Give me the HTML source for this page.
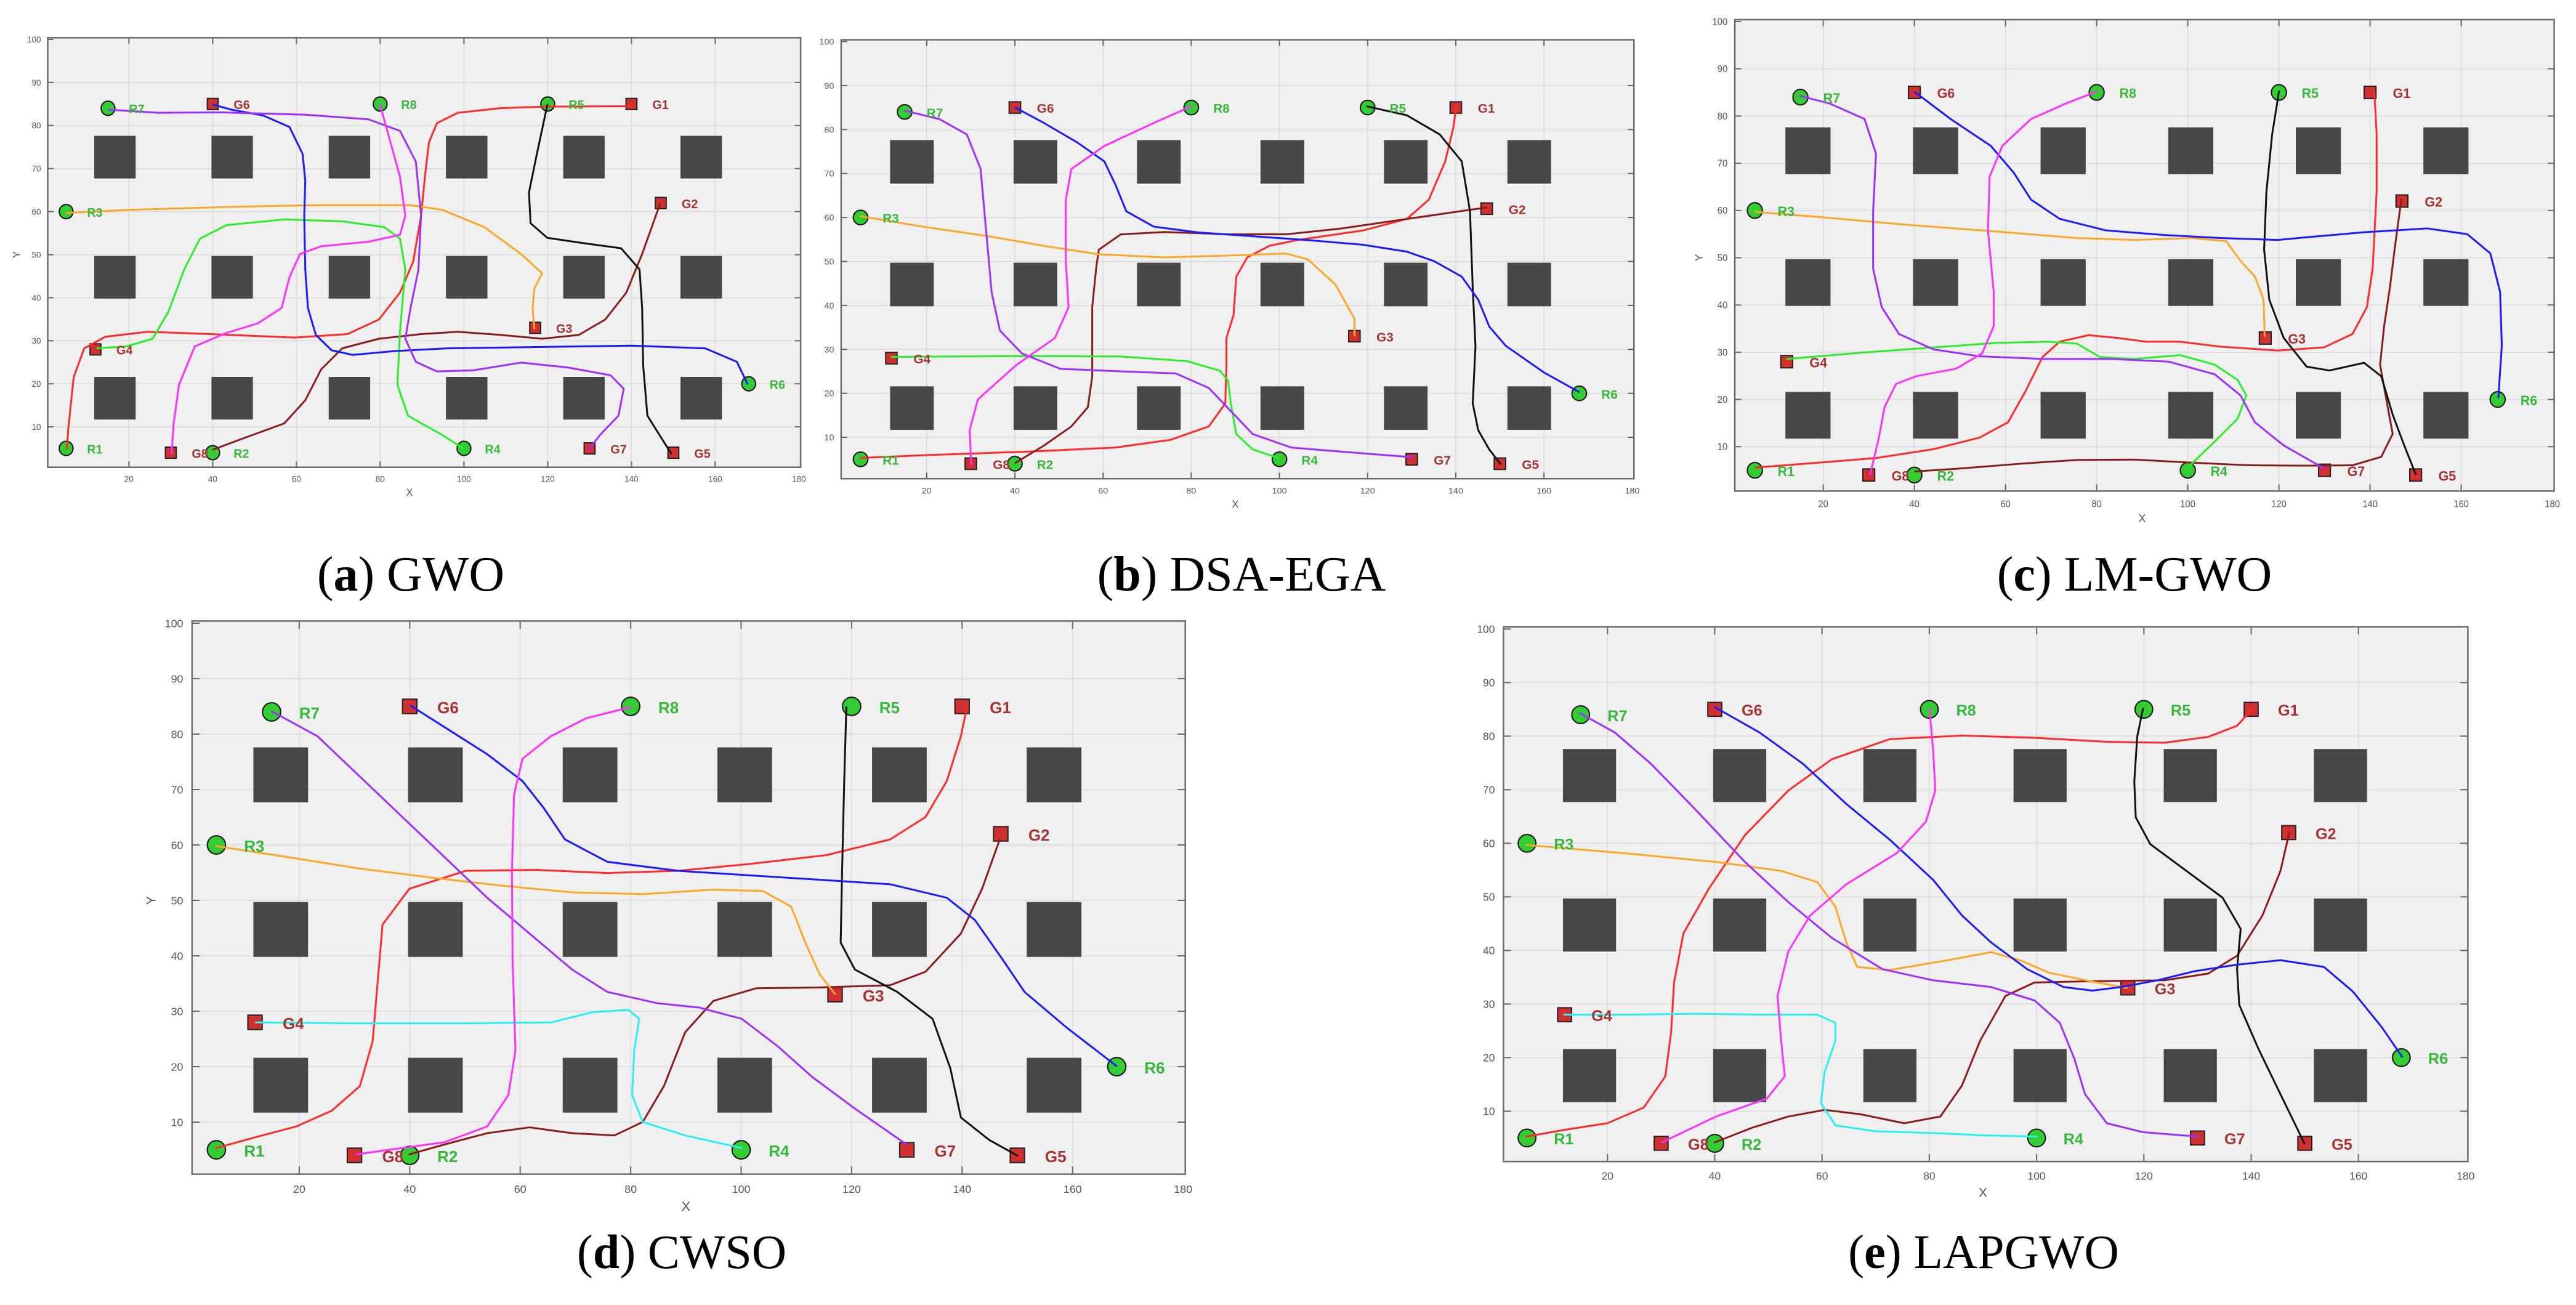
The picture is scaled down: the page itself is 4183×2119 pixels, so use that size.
<!DOCTYPE html>
<html><head><meta charset="utf-8"><style>
html,body{margin:0;padding:0;background:#fff}
svg{display:block}
.ns{vector-effect:non-scaling-stroke}
.p polyline{fill:none;stroke-width:3px;vector-effect:non-scaling-stroke;stroke-linejoin:round;stroke-linecap:round}
.tk{font-family:"Liberation Sans",sans-serif;font-size:2px;fill:#555}
.rl{font-family:"Liberation Sans",sans-serif;font-size:2.9px;font-weight:bold;fill:#36b83a}
.gl{font-family:"Liberation Sans",sans-serif;font-size:2.9px;font-weight:bold;fill:#a83232}
.cap{font-family:"Liberation Serif",serif;font-size:80px;fill:#000}
</style></head><body>
<svg width="4183" height="2119" viewBox="0 0 4183 2119" xmlns="http://www.w3.org/2000/svg">
<defs>
<g id="env">
<rect x="0.6" y="-0.4" width="179.8" height="99.8" fill="#f0f0f0"/>
<g stroke="#dadada" stroke-width="1.5" class="ns">
<line class="ns" x1="20" y1="-0.4" x2="20" y2="99.4"/><line class="ns" x1="40" y1="-0.4" x2="40" y2="99.4"/><line class="ns" x1="60" y1="-0.4" x2="60" y2="99.4"/><line class="ns" x1="80" y1="-0.4" x2="80" y2="99.4"/><line class="ns" x1="100" y1="-0.4" x2="100" y2="99.4"/><line class="ns" x1="120" y1="-0.4" x2="120" y2="99.4"/><line class="ns" x1="140" y1="-0.4" x2="140" y2="99.4"/><line class="ns" x1="160" y1="-0.4" x2="160" y2="99.4"/>
<line class="ns" x1="0.6" y1="10" x2="180.4" y2="10"/><line class="ns" x1="0.6" y1="20" x2="180.4" y2="20"/><line class="ns" x1="0.6" y1="30" x2="180.4" y2="30"/><line class="ns" x1="0.6" y1="40" x2="180.4" y2="40"/><line class="ns" x1="0.6" y1="50" x2="180.4" y2="50"/><line class="ns" x1="0.6" y1="60" x2="180.4" y2="60"/><line class="ns" x1="0.6" y1="70" x2="180.4" y2="70"/><line class="ns" x1="0.6" y1="80" x2="180.4" y2="80"/><line class="ns" x1="0.6" y1="90" x2="180.4" y2="90"/>
</g>
<g fill="#474747">
<rect x="11.7" y="22.4" width="9.9" height="9.9"/><rect x="39.7" y="22.4" width="9.9" height="9.9"/><rect x="67.7" y="22.4" width="9.9" height="9.9"/><rect x="95.7" y="22.4" width="9.9" height="9.9"/><rect x="123.7" y="22.4" width="9.9" height="9.9"/><rect x="151.7" y="22.4" width="9.9" height="9.9"/>
<rect x="11.7" y="50.3" width="9.9" height="9.9"/><rect x="39.7" y="50.3" width="9.9" height="9.9"/><rect x="67.7" y="50.3" width="9.9" height="9.9"/><rect x="95.7" y="50.3" width="9.9" height="9.9"/><rect x="123.7" y="50.3" width="9.9" height="9.9"/><rect x="151.7" y="50.3" width="9.9" height="9.9"/>
<rect x="11.7" y="78.4" width="9.9" height="9.9"/><rect x="39.7" y="78.4" width="9.9" height="9.9"/><rect x="67.7" y="78.4" width="9.9" height="9.9"/><rect x="95.7" y="78.4" width="9.9" height="9.9"/><rect x="123.7" y="78.4" width="9.9" height="9.9"/><rect x="151.7" y="78.4" width="9.9" height="9.9"/>
</g>
<g stroke="#666" stroke-width="2">
<line class="ns" x1="0.6" y1="0" x2="2" y2="0"/><line class="ns" x1="0.6" y1="10" x2="2" y2="10"/><line class="ns" x1="0.6" y1="20" x2="2" y2="20"/><line class="ns" x1="0.6" y1="30" x2="2" y2="30"/><line class="ns" x1="0.6" y1="40" x2="2" y2="40"/><line class="ns" x1="0.6" y1="50" x2="2" y2="50"/><line class="ns" x1="0.6" y1="60" x2="2" y2="60"/><line class="ns" x1="0.6" y1="70" x2="2" y2="70"/><line class="ns" x1="0.6" y1="80" x2="2" y2="80"/><line class="ns" x1="0.6" y1="90" x2="2" y2="90"/>
<line class="ns" x1="179" y1="10" x2="180.4" y2="10"/><line class="ns" x1="179" y1="20" x2="180.4" y2="20"/><line class="ns" x1="179" y1="30" x2="180.4" y2="30"/><line class="ns" x1="179" y1="40" x2="180.4" y2="40"/><line class="ns" x1="179" y1="50" x2="180.4" y2="50"/><line class="ns" x1="179" y1="60" x2="180.4" y2="60"/><line class="ns" x1="179" y1="70" x2="180.4" y2="70"/><line class="ns" x1="179" y1="80" x2="180.4" y2="80"/><line class="ns" x1="179" y1="90" x2="180.4" y2="90"/>
<line class="ns" x1="20" y1="99.4" x2="20" y2="98"/><line class="ns" x1="40" y1="99.4" x2="40" y2="98"/><line class="ns" x1="60" y1="99.4" x2="60" y2="98"/><line class="ns" x1="80" y1="99.4" x2="80" y2="98"/><line class="ns" x1="100" y1="99.4" x2="100" y2="98"/><line class="ns" x1="120" y1="99.4" x2="120" y2="98"/><line class="ns" x1="140" y1="99.4" x2="140" y2="98"/><line class="ns" x1="160" y1="99.4" x2="160" y2="98"/>
<line class="ns" x1="20" y1="-0.4" x2="20" y2="1"/><line class="ns" x1="40" y1="-0.4" x2="40" y2="1"/><line class="ns" x1="60" y1="-0.4" x2="60" y2="1"/><line class="ns" x1="80" y1="-0.4" x2="80" y2="1"/><line class="ns" x1="100" y1="-0.4" x2="100" y2="1"/><line class="ns" x1="120" y1="-0.4" x2="120" y2="1"/><line class="ns" x1="140" y1="-0.4" x2="140" y2="1"/><line class="ns" x1="160" y1="-0.4" x2="160" y2="1"/>
</g>
<rect class="ns" x="0.6" y="-0.4" width="179.8" height="99.8" fill="none" stroke="#6a6a6a" stroke-width="2.5"/>
</g>
<g id="mk">
<g fill="#33cc33" stroke="#111" stroke-width="2">
<ellipse class="ns" cx="5" cy="95" rx="1.65" ry="1.65"/><ellipse class="ns" cx="40" cy="96" rx="1.65" ry="1.65"/><ellipse class="ns" cx="5" cy="40" rx="1.65" ry="1.65"/><ellipse class="ns" cx="100" cy="95" rx="1.65" ry="1.65"/><ellipse class="ns" cx="120" cy="15" rx="1.65" ry="1.65"/><ellipse class="ns" cx="168" cy="80" rx="1.65" ry="1.65"/><ellipse class="ns" cx="15" cy="16" rx="1.65" ry="1.65"/><ellipse class="ns" cx="80" cy="15" rx="1.65" ry="1.65"/>
</g>
<g fill="#d03030" stroke="#222" stroke-width="2">
<rect class="ns" x="138.7" y="13.7" width="2.6" height="2.6"/><rect class="ns" x="145.7" y="36.7" width="2.6" height="2.6"/><rect class="ns" x="115.7" y="65.7" width="2.6" height="2.6"/><rect class="ns" x="10.7" y="70.7" width="2.6" height="2.6"/><rect class="ns" x="148.7" y="94.7" width="2.6" height="2.6"/><rect class="ns" x="38.7" y="13.7" width="2.6" height="2.6"/><rect class="ns" x="128.7" y="93.7" width="2.6" height="2.6"/><rect class="ns" x="28.7" y="94.7" width="2.6" height="2.6"/>
</g>
</g>
</defs>

<!-- ========== PANEL A ========== -->
<g transform="translate(73.4,64) scale(6.80,6.99)">
<use href="#env"/><use href="#mk"/>
</g>
<g class="p" transform="translate(0,0) scale(0.8547,0.625)">
<polyline stroke="#ff2a2a" points="127,1165 130,1110 140,980 160,905 200,875 280,862 400,868 560,877 660,868 720,830 760,760 785,680 800,560 808,450 815,370 830,320 870,293 950,281 1040,277 1200,276"/>
<polyline stroke="#8b1c1c" points="405,1168 460,1140 540,1100 580,1040 610,960 650,905 720,880 800,868 870,862 950,870 1030,880 1100,870 1150,830 1190,760 1220,660 1254,530"/>
<polyline stroke="#ffa628" points="127,553 250,545 450,537 600,533 780,533 840,545 920,590 990,660 1030,710 1015,750 1012,800 1015,853"/>
<polyline stroke="#2aee2a" points="880,1165 840,1130 775,1080 755,1000 760,860 770,700 760,620 730,590 650,575 540,570 430,585 380,620 350,700 320,810 290,880 240,900 185,905"/>
<polyline stroke="#111" points="1040,272 1020,400 1005,500 1008,580 1040,618 1110,632 1180,645 1215,700 1220,800 1222,950 1230,1080 1275,1178"/>
<polyline stroke="#1a1aff" points="1420,997 1400,940 1340,905 1200,898 1000,902 850,905 750,912 670,922 630,910 600,870 585,800 580,700 578,560 580,470 575,400 550,330 500,300 440,285 405,272"/>
<polyline stroke="#9b30ff" points="207,285 300,293 420,292 580,298 700,310 760,340 790,420 800,560 795,700 780,800 770,880 790,940 830,965 900,962 990,942 1080,955 1160,975 1185,1010 1175,1080 1140,1130 1120,1165"/>
<polyline stroke="#ff30ff" points="722,272 740,360 760,460 770,560 760,610 700,628 610,640 570,660 550,720 535,800 490,840 430,865 370,900 340,1000 330,1100 326,1178"/>
</g>
<g transform="translate(73.4,64) scale(6.80,6.99)">
<g class="tk" text-anchor="end"><text x="-1" y="0.7">100</text><text x="-1" y="10.7">90</text><text x="-1" y="20.7">80</text><text x="-1" y="30.7">70</text><text x="-1" y="40.7">60</text><text x="-1" y="50.7">50</text><text x="-1" y="60.7">40</text><text x="-1" y="70.7">30</text><text x="-1" y="80.7">20</text><text x="-1" y="90.7">10</text></g>
<g class="tk" text-anchor="middle"><text x="20" y="102.8">20</text><text x="40" y="102.8">40</text><text x="60" y="102.8">60</text><text x="80" y="102.8">80</text><text x="100" y="102.8">100</text><text x="120" y="102.8">120</text><text x="140" y="102.8">140</text><text x="160" y="102.8">160</text><text x="180" y="102.8">180</text><text x="87" y="106" style="font-size:2.4px">X</text></g>
<text class="tk" transform="translate(-6,50) rotate(-90)" text-anchor="middle" style="font-size:2.4px">Y</text>
<text class="rl" x="10" y="96.2">R1</text><text class="rl" x="45" y="97.2">R2</text><text class="rl" x="10" y="41.2">R3</text><text class="rl" x="105" y="96.2">R4</text><text class="rl" x="125" y="16.2">R5</text><text class="rl" x="173" y="81.2">R6</text><text class="rl" x="20" y="17.2">R7</text><text class="rl" x="85" y="16.2">R8</text>
<text class="gl" x="145" y="16.2">G1</text><text class="gl" x="152" y="39.2">G2</text><text class="gl" x="122" y="68.2">G3</text><text class="gl" x="17" y="73.2">G4</text><text class="gl" x="155" y="97.2">G5</text><text class="gl" x="45" y="16.2">G6</text><text class="gl" x="135" y="96.2">G7</text><text class="gl" x="35" y="97.2">G8</text>
</g>
<text class="cap" x="667" y="959" text-anchor="middle">(<tspan font-weight="bold">a</tspan>) GWO</text>

<!-- ========== PANEL B ========== -->
<g transform="translate(1361.6,67.5) scale(7.16,7.14)">
<use href="#env"/><use href="#mk"/>
</g>
<g class="p" transform="translate(1320,0) scale(0.8929,0.6238)">
<polyline stroke="#ff2a2a" points="87,1192 200,1185 400,1175 550,1165 650,1145 720,1110 750,1050 752,950 752,880 765,820 770,720 790,670 830,640 880,625 1000,600 1080,570 1120,520 1150,420 1165,330 1170,277"/>
<polyline stroke="#8b1c1c" points="368,1205 420,1160 470,1110 500,1060 508,980 508,800 515,700 520,650 560,610 640,604 760,610 860,610 960,595 1080,570 1225,540"/>
<polyline stroke="#ffa628" points="87,563 200,590 320,615 420,640 520,662 640,670 760,665 860,660 900,675 950,740 985,830 985,873"/>
<polyline stroke="#2aee2a" points="848,1193 800,1170 770,1130 760,1050 755,990 740,965 680,940 560,928 400,927 250,928 143,929"/>
<polyline stroke="#111" points="1008,277 1080,300 1140,350 1180,420 1195,550 1200,750 1205,900 1200,1050 1210,1120 1230,1170 1250,1207"/>
<polyline stroke="#1a1aff" points="1393,1020 1330,970 1260,900 1230,850 1210,780 1180,720 1130,680 1080,655 1000,637 900,625 800,615 700,605 620,590 570,550 550,480 530,420 480,370 420,320 368,280"/>
<polyline stroke="#9b30ff" points="167,288 230,310 280,350 305,440 315,600 325,760 340,860 380,920 450,960 550,966 660,972 720,1010 760,1070 800,1130 870,1165 1000,1180 1090,1190"/>
<polyline stroke="#ff30ff" points="688,277 620,320 530,380 470,440 460,520 460,680 465,800 440,880 370,950 300,1040 285,1120 288,1208"/>
</g>
<g transform="translate(1361.6,67.5) scale(7.16,7.14)">
<g class="tk" text-anchor="end"><text x="-1" y="0.7">100</text><text x="-1" y="10.7">90</text><text x="-1" y="20.7">80</text><text x="-1" y="30.7">70</text><text x="-1" y="40.7">60</text><text x="-1" y="50.7">50</text><text x="-1" y="60.7">40</text><text x="-1" y="70.7">30</text><text x="-1" y="80.7">20</text><text x="-1" y="90.7">10</text></g>
<g class="tk" text-anchor="middle"><text x="20" y="102.8">20</text><text x="40" y="102.8">40</text><text x="60" y="102.8">60</text><text x="80" y="102.8">80</text><text x="100" y="102.8">100</text><text x="120" y="102.8">120</text><text x="140" y="102.8">140</text><text x="160" y="102.8">160</text><text x="180" y="102.8">180</text><text x="90" y="106" style="font-size:2.4px">X</text></g>
<text class="rl" x="10" y="96.2">R1</text><text class="rl" x="45" y="97.2">R2</text><text class="rl" x="10" y="41.2">R3</text><text class="rl" x="105" y="96.2">R4</text><text class="rl" x="125" y="16.2">R5</text><text class="rl" x="173" y="81.2">R6</text><text class="rl" x="20" y="17.2">R7</text><text class="rl" x="85" y="16.2">R8</text>
<text class="gl" x="145" y="16.2">G1</text><text class="gl" x="152" y="39.2">G2</text><text class="gl" x="122" y="68.2">G3</text><text class="gl" x="17" y="73.2">G4</text><text class="gl" x="155" y="97.2">G5</text><text class="gl" x="45" y="16.2">G6</text><text class="gl" x="135" y="96.2">G7</text><text class="gl" x="35" y="97.2">G8</text>
</g>
<text class="cap" x="2016" y="959" text-anchor="middle">(<tspan font-weight="bold">b</tspan>) DSA-EGA</text>

<!-- ========== PANEL C ========== -->
<g transform="translate(2812.6,35) scale(7.40,7.67)">
<use href="#env"/><use href="#mk"/>
</g>
<g class="p" transform="translate(2720,0) scale(0.9323,0.6234)">
<polyline stroke="#ff2a2a" points="140,1218 250,1205 350,1193 450,1170 530,1140 580,1100 610,1020 640,930 670,890 720,873 770,880 820,890 880,890 950,903 1050,913 1130,905 1180,870 1205,800 1215,700 1222,500 1222,350 1218,240"/>
<polyline stroke="#8b1c1c" points="418,1228 500,1220 600,1208 700,1198 800,1197 900,1205 1000,1212 1100,1213 1180,1212 1230,1190 1250,1130 1240,1050 1228,950 1235,850 1245,750 1255,630 1265,520"/>
<polyline stroke="#ffa628" points="140,552 250,565 400,585 550,602 700,620 800,625 900,620 960,628 985,680 1010,720 1025,780 1027,875"/>
<polyline stroke="#2aee2a" points="895,1215 940,1150 980,1090 995,1030 980,990 940,950 880,925 800,935 740,930 700,895 650,890 560,893 450,905 330,918 195,935"/>
<polyline stroke="#111" points="1052,238 1040,350 1030,500 1026,650 1035,780 1060,880 1100,955 1140,965 1200,945 1230,980 1250,1080 1270,1160 1290,1235"/>
<polyline stroke="#1a1aff" points="1434,1035 1440,900 1437,760 1420,660 1380,610 1310,595 1200,605 1100,618 1050,625 950,620 850,612 750,600 670,570 620,520 590,450 550,380 480,310 418,240"/>
<polyline stroke="#9b30ff" points="218,250 270,270 330,310 350,400 345,550 345,700 360,800 390,870 450,910 530,928 640,935 760,935 860,942 940,975 985,1030 1010,1100 1060,1160 1130,1220"/>
<polyline stroke="#ff30ff" points="735,238 680,270 620,310 570,380 548,460 545,600 555,760 555,850 535,920 490,960 420,980 385,1000 365,1060 355,1140 340,1235"/>
</g>
<g transform="translate(2812.6,35) scale(7.40,7.67)">
<g class="tk" text-anchor="end"><text x="-1" y="0.7">100</text><text x="-1" y="10.7">90</text><text x="-1" y="20.7">80</text><text x="-1" y="30.7">70</text><text x="-1" y="40.7">60</text><text x="-1" y="50.7">50</text><text x="-1" y="60.7">40</text><text x="-1" y="70.7">30</text><text x="-1" y="80.7">20</text><text x="-1" y="90.7">10</text></g>
<g class="tk" text-anchor="middle"><text x="20" y="102.8">20</text><text x="40" y="102.8">40</text><text x="60" y="102.8">60</text><text x="80" y="102.8">80</text><text x="100" y="102.8">100</text><text x="120" y="102.8">120</text><text x="140" y="102.8">140</text><text x="160" y="102.8">160</text><text x="180" y="102.8">180</text><text x="90" y="106" style="font-size:2.4px">X</text></g>
<text class="tk" transform="translate(-6.5,50) rotate(-90)" text-anchor="middle" style="font-size:2.4px">Y</text>
<text class="rl" x="10" y="96.2">R1</text><text class="rl" x="45" y="97.2">R2</text><text class="rl" x="10" y="41.2">R3</text><text class="rl" x="105" y="96.2">R4</text><text class="rl" x="125" y="16.2">R5</text><text class="rl" x="173" y="81.2">R6</text><text class="rl" x="20" y="17.2">R7</text><text class="rl" x="85" y="16.2">R8</text>
<text class="gl" x="145" y="16.2">G1</text><text class="gl" x="152" y="39.2">G2</text><text class="gl" x="122" y="68.2">G3</text><text class="gl" x="17" y="73.2">G4</text><text class="gl" x="155" y="97.2">G5</text><text class="gl" x="45" y="16.2">G6</text><text class="gl" x="135" y="96.2">G7</text><text class="gl" x="35" y="97.2">G8</text>
</g>
<text class="cap" x="3466" y="959" text-anchor="middle">(<tspan font-weight="bold">c</tspan>) LM-GWO</text>

<!-- ========== PANEL D ========== -->
<g transform="translate(306.5,1012) scale(8.97,9.0)">
<use href="#env"/><use href="#mk"/>
</g>
<g class="p" transform="translate(240,977) scale(1.1481,0.7283)">
<polyline stroke="#ff2a2a" points="97,1218 150,1195 210,1170 260,1135 300,1080 318,980 325,850 332,720 370,640 450,600 550,598 650,605 750,600 850,585 960,565 1050,530 1100,480 1130,400 1150,300 1158,240"/>
<polyline stroke="#8b1c1c" points="370,1232 420,1210 480,1185 540,1172 600,1185 660,1190 700,1160 730,1080 760,960 800,890 860,862 950,860 1050,855 1100,825 1150,740 1180,640 1205,530"/>
<polyline stroke="#ffa628" points="97,545 200,570 300,595 400,615 500,633 600,648 700,652 800,642 870,645 910,680 930,760 950,830 972,875"/>
<polyline stroke="#2af0f0" points="840,1218 760,1190 700,1160 685,1100 688,1000 695,930 680,910 630,915 570,938 450,940 300,940 153,938"/>
<polyline stroke="#111" points="988,235 985,400 982,600 980,760 1000,820 1060,870 1110,930 1135,1040 1150,1150 1190,1200 1230,1235"/>
<polyline stroke="#1a1aff" points="1370,1035 1300,950 1240,870 1210,800 1170,710 1130,660 1050,630 950,620 850,610 750,600 650,580 590,530 560,460 530,400 480,340 420,280 372,232"/>
<polyline stroke="#9b30ff" points="176,245 240,300 300,390 360,480 420,570 480,660 540,740 600,820 650,870 720,895 780,905 840,930 890,990 940,1060 1000,1130 1073,1210"/>
<polyline stroke="#ff30ff" points="683,235 620,260 570,300 530,350 518,430 515,600 516,800 520,1000 510,1100 480,1170 420,1205 360,1218 295,1232"/>
</g>
<g transform="translate(306.5,1012) scale(8.97,9.0)">
<g class="tk" text-anchor="end"><text x="-1" y="0.7">100</text><text x="-1" y="10.7">90</text><text x="-1" y="20.7">80</text><text x="-1" y="30.7">70</text><text x="-1" y="40.7">60</text><text x="-1" y="50.7">50</text><text x="-1" y="60.7">40</text><text x="-1" y="70.7">30</text><text x="-1" y="80.7">20</text><text x="-1" y="90.7">10</text></g>
<g class="tk" text-anchor="middle"><text x="20" y="102.8">20</text><text x="40" y="102.8">40</text><text x="60" y="102.8">60</text><text x="80" y="102.8">80</text><text x="100" y="102.8">100</text><text x="120" y="102.8">120</text><text x="140" y="102.8">140</text><text x="160" y="102.8">160</text><text x="180" y="102.8">180</text><text x="90" y="106" style="font-size:2.4px">X</text></g>
<text class="tk" transform="translate(-6,50) rotate(-90)" text-anchor="middle" style="font-size:2.4px">Y</text>
<text class="rl" x="10" y="96.2">R1</text><text class="rl" x="45" y="97.2">R2</text><text class="rl" x="10" y="41.2">R3</text><text class="rl" x="105" y="96.2">R4</text><text class="rl" x="125" y="16.2">R5</text><text class="rl" x="173" y="81.2">R6</text><text class="rl" x="20" y="17.2">R7</text><text class="rl" x="85" y="16.2">R8</text>
<text class="gl" x="145" y="16.2">G1</text><text class="gl" x="152" y="39.2">G2</text><text class="gl" x="122" y="68.2">G3</text><text class="gl" x="17" y="73.2">G4</text><text class="gl" x="155" y="97.2">G5</text><text class="gl" x="45" y="16.2">G6</text><text class="gl" x="135" y="96.2">G7</text><text class="gl" x="35" y="97.2">G8</text>
</g>
<text class="cap" x="1107" y="2059" text-anchor="middle" style="font-size:78px">(<tspan font-weight="bold">d</tspan>) CWSO</text>

<!-- ========== PANEL E ========== -->
<g transform="translate(2436.1,1021.3) scale(8.71,8.7)">
<use href="#env"/><use href="#mk"/>
</g>
<g class="p" transform="translate(2340,979) scale(1.1751,0.7252)">
<polyline stroke="#ff2a2a" points="118,1195 170,1180 230,1165 280,1130 310,1060 318,960 322,850 335,740 370,640 420,520 480,420 540,350 620,305 720,297 820,302 920,311 1000,313 1060,300 1100,275 1120,240"/>
<polyline stroke="#8b1c1c" points="378,1208 430,1175 480,1150 530,1135 580,1145 640,1165 690,1150 720,1080 745,980 780,880 820,850 900,847 1000,845 1060,830 1100,790 1135,700 1160,600 1172,515"/>
<polyline stroke="#ffa628" points="118,542 250,560 380,580 470,600 520,625 545,680 560,760 575,815 620,822 700,800 760,782 800,800 840,828 900,848 948,862"/>
<polyline stroke="#2af0f0" points="823,1195 750,1192 680,1187 600,1183 545,1170 525,1120 530,1050 545,980 545,940 520,922 450,922 350,920 250,922 170,922"/>
<polyline stroke="#111" points="970,237 962,300 958,400 960,480 980,540 1030,600 1080,660 1105,730 1100,820 1103,900 1130,1000 1160,1100 1193,1210"/>
<polyline stroke="#1a1aff" points="1328,1016 1300,950 1260,870 1220,815 1160,800 1100,810 1040,825 990,845 940,860 900,868 860,860 810,820 760,760 720,700 680,620 620,530 560,450 500,360 440,290 378,233"/>
<polyline stroke="#9b30ff" points="192,247 240,290 290,360 350,460 420,580 480,670 540,750 610,820 680,845 760,860 820,890 855,940 875,1020 890,1100 920,1165 970,1185 1046,1195"/>
<polyline stroke="#ff30ff" points="675,237 680,330 683,420 670,490 630,560 560,630 510,700 480,780 465,880 470,980 475,1060 450,1110 380,1150 305,1208"/>
</g>
<g transform="translate(2436.1,1021.3) scale(8.71,8.7)">
<g class="tk" text-anchor="end"><text x="-1" y="0.7">100</text><text x="-1" y="10.7">90</text><text x="-1" y="20.7">80</text><text x="-1" y="30.7">70</text><text x="-1" y="40.7">60</text><text x="-1" y="50.7">50</text><text x="-1" y="60.7">40</text><text x="-1" y="70.7">30</text><text x="-1" y="80.7">20</text><text x="-1" y="90.7">10</text></g>
<g class="tk" text-anchor="middle"><text x="20" y="102.8">20</text><text x="40" y="102.8">40</text><text x="60" y="102.8">60</text><text x="80" y="102.8">80</text><text x="100" y="102.8">100</text><text x="120" y="102.8">120</text><text x="140" y="102.8">140</text><text x="160" y="102.8">160</text><text x="180" y="102.8">180</text><text x="90" y="106" style="font-size:2.4px">X</text></g>
<text class="rl" x="10" y="96.2">R1</text><text class="rl" x="45" y="97.2">R2</text><text class="rl" x="10" y="41.2">R3</text><text class="rl" x="105" y="96.2">R4</text><text class="rl" x="125" y="16.2">R5</text><text class="rl" x="173" y="81.2">R6</text><text class="rl" x="20" y="17.2">R7</text><text class="rl" x="85" y="16.2">R8</text>
<text class="gl" x="145" y="16.2">G1</text><text class="gl" x="152" y="39.2">G2</text><text class="gl" x="122" y="68.2">G3</text><text class="gl" x="17" y="73.2">G4</text><text class="gl" x="155" y="97.2">G5</text><text class="gl" x="45" y="16.2">G6</text><text class="gl" x="135" y="96.2">G7</text><text class="gl" x="35" y="97.2">G8</text>
</g>
<text class="cap" x="3221" y="2059" text-anchor="middle" style="font-size:78px">(<tspan font-weight="bold">e</tspan>) LAPGWO</text>
</svg>
</body></html>
